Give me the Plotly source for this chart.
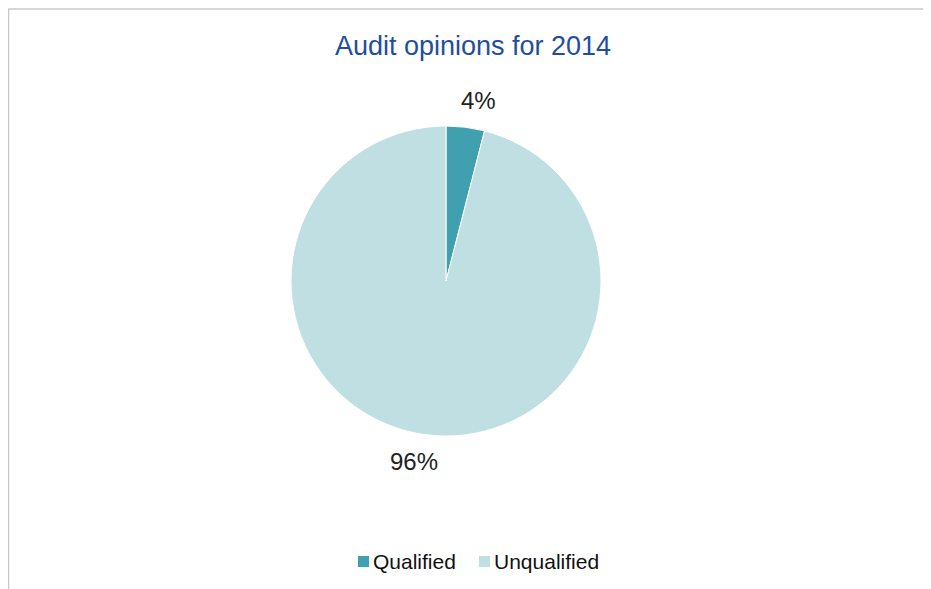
import math
import plotly.graph_objects as go

labels = ["Qualified", "Unqualified"]
values = [4, 96]
colors = ["#40A0AF", "#BFDFE3"]
title_text = "Audit opinions for 2014"

# page body has an 8px margin; figure sits at (8, 8)
OFF = 8
W, H = 931 - OFF, 589 - OFF
cx, cy, r = 446 - OFF, 281 - OFF, 155

fig = go.Figure(go.Pie(
    labels=labels,
    values=values,
    sort=False,
    direction="clockwise",
    rotation=0,
    marker=dict(colors=colors, line=dict(color="white", width=1)),
    textinfo="none",
    showlegend=False,
    domain=dict(x=[(cx - r) / W, (cx + r) / W], y=[1 - (cy + r) / H, 1 - (cy - r) / H]),
    hoverinfo="label+percent",
))


def px_x(x):
    return (x - OFF) / W


def px_y(y):
    return 1 - (y - OFF) / H


# percentage labels placed outside each slice, from the data
total = sum(values)
annotations = []
shapes = []
cum = 0
label_font = dict(family="Liberation Sans", size=24, color="#222222")
for v in values:
    mid = (cum + v / 2) / total * 360 + 3
    cum += v
    rad = math.radians(mid)
    dist = r + 28
    x = 446 + dist * math.sin(rad)
    y = 281 - dist * math.cos(rad)
    annotations.append(dict(text=f"{round(v / total * 100)}%", x=px_x(x), y=px_y(y),
                            xref="paper", yref="paper", showarrow=False,
                            xanchor="center", yanchor="middle", font=label_font))

# legend drawn by hand: square marker + label per category
legend_left = [358, 479]
legend_y = 561.5
sq = 11
for name, col, lx in zip(labels, colors, legend_left):
    shapes.append(dict(type="rect", xref="paper", yref="paper",
                       x0=px_x(lx), x1=px_x(lx + sq), y0=px_y(legend_y - sq / 2), y1=px_y(legend_y + sq / 2),
                       fillcolor=col, line=dict(width=0)))
    annotations.append(dict(text=name, x=px_x(lx + sq + 2), y=px_y(legend_y), xref="paper", yref="paper",
                            showarrow=False, xanchor="left", yanchor="middle",
                            font=dict(family="Liberation Sans", size=21, color="#111111")))

# chart frame (top and left edges visible)
shapes += [
    dict(type="line", xref="paper", yref="paper", x0=0.5 / W, x1=1.01, y0=1 - 1 / H, y1=1 - 1 / H,
         line=dict(color="#C8C8C8", width=1.5)),
    dict(type="line", xref="paper", yref="paper", x0=0.5 / W, x1=0.5 / W, y0=1 - 1 / H, y1=-0.01,
         line=dict(color="#C8C8C8", width=1.5)),
]

fig.update_layout(
    width=W, height=H,
    margin=dict(l=0, r=0, t=0, b=0),
    paper_bgcolor="white",
    plot_bgcolor="white",
    title=dict(text=title_text, x=px_x(473), xanchor="center", y=px_y(46), yanchor="middle",
               font=dict(family="Liberation Sans", size=27, color="#1F4E9E")),
    showlegend=False,
    annotations=annotations,
    shapes=shapes,
)

fig.write_html("out.html")
